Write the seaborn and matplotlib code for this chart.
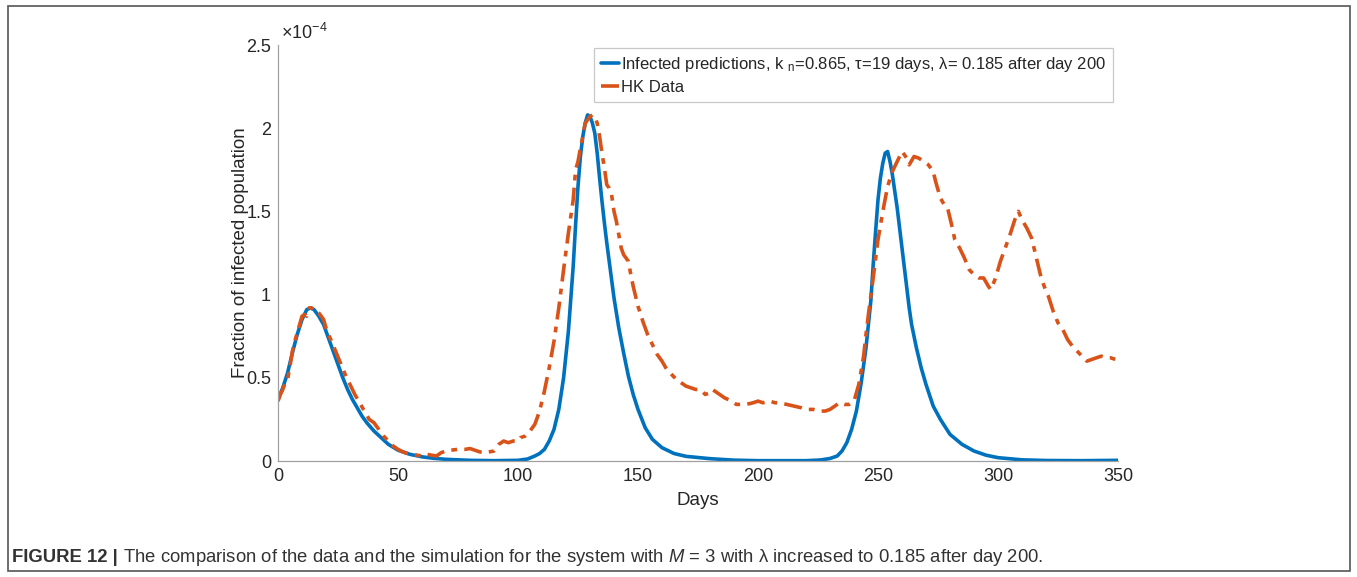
import numpy as np
import pandas as pd
import matplotlib
matplotlib.use("Agg")
import matplotlib.pyplot as plt
from matplotlib.patches import Rectangle
import seaborn as sns

# ---- data (fraction of infected population, in units of 1e-4) ----
model_days = [0, 2, 4, 6, 8, 10, 12, 13.6, 15, 17, 19, 21, 23, 25, 27, 29, 31, 33, 35, 37,
              40, 43, 46, 50, 55, 60, 65, 70, 80, 90, 100, 104, 107, 109, 111, 113, 115, 117,
              119, 121, 123, 124, 125, 126, 127, 128, 129, 130, 131, 132, 133, 134, 135, 136,
              137, 138, 140, 142, 144, 146, 148, 150, 153, 156, 160, 165, 170, 180, 190, 200,
              220, 226, 230, 233, 235, 237, 239, 241, 243, 245, 247, 248, 249, 250, 251, 252,
              253, 254, 255, 256, 257, 258, 259, 260, 261, 262, 263, 264, 266, 268, 270, 273,
              276, 280, 285, 290, 295, 300, 310, 320, 335, 350]
model_vals = [0.37, 0.44, 0.53, 0.65, 0.76, 0.85, 0.91, 0.92, 0.91, 0.87, 0.82, 0.74, 0.66,
              0.58, 0.50, 0.43, 0.37, 0.32, 0.27, 0.23, 0.18, 0.14, 0.10, 0.065, 0.04, 0.025,
              0.016, 0.010, 0.004, 0.002, 0.004, 0.012, 0.03, 0.045, 0.07, 0.12, 0.19, 0.31,
              0.50, 0.78, 1.17, 1.42, 1.65, 1.83, 1.95, 2.03, 2.08, 2.07, 2.03, 1.97, 1.85,
              1.70, 1.56, 1.43, 1.31, 1.20, 0.98, 0.80, 0.65, 0.51, 0.40, 0.31, 0.20, 0.13,
              0.08, 0.045, 0.028, 0.014, 0.005, 0.002, 0.002, 0.006, 0.015, 0.03, 0.06, 0.11,
              0.19, 0.30, 0.47, 0.68, 0.96, 1.18, 1.38, 1.57, 1.70, 1.79, 1.85, 1.86, 1.80,
              1.72, 1.62, 1.52, 1.40, 1.28, 1.16, 1.04, 0.92, 0.82, 0.68, 0.56, 0.46, 0.33,
              0.25, 0.16, 0.10, 0.06, 0.035, 0.02, 0.007, 0.003, 0.002, 0.004]

hk_days = [0, 1, 2, 3, 4, 5, 6, 7, 8, 9, 10, 11, 12, 13, 14, 15, 16, 17, 18, 19, 20, 21, 22,
           24, 26, 28, 30, 32, 34, 36, 38, 40, 42, 44, 46, 48, 50, 52, 54, 56, 58, 60, 62, 64,
           66, 68, 70, 72, 75, 78, 80, 82, 84, 86, 88, 90, 92, 94, 96, 98, 100, 101, 103, 105,
           107, 109, 111, 113, 115, 117, 119, 121, 123, 124, 125, 126, 127, 128, 129, 130, 131,
           132, 133, 134, 135, 136, 137, 138, 139, 140, 141, 142, 143, 144, 145, 146, 147, 148,
           150, 152, 154, 156, 158, 160, 162, 164, 166, 168, 170, 172, 174, 176, 178, 180, 181,
           183, 186, 189, 191, 193, 195, 198, 200, 202, 205, 207, 209, 212, 215, 218, 220, 223,
           226, 228, 230, 232, 234, 236, 238, 240, 242, 244, 245, 246, 248, 250, 252, 254, 256,
           258, 260, 262, 263, 265, 267, 269, 271, 273, 274, 276, 278, 279, 281, 282, 284, 286,
           288, 290, 292, 294, 296, 297, 299, 301, 303, 305, 307, 308.5, 310, 312, 314, 316,
           318, 320, 321, 323, 325, 327, 329, 331, 333, 335, 337, 339, 341, 343, 345, 347, 349,
           350]
hk_vals = [0.36, 0.40, 0.43, 0.47, 0.49, 0.57, 0.66, 0.72, 0.77, 0.82, 0.87, 0.88, 0.87, 0.92,
           0.92, 0.90, 0.90, 0.89, 0.87, 0.85, 0.80, 0.76, 0.73, 0.66, 0.59, 0.52, 0.46, 0.40,
           0.35, 0.30, 0.25, 0.23, 0.19, 0.15, 0.12, 0.09, 0.07, 0.055, 0.045, 0.04, 0.035,
           0.03, 0.04, 0.035, 0.03, 0.05, 0.06, 0.065, 0.07, 0.07, 0.075, 0.065, 0.055, 0.05,
           0.055, 0.06, 0.10, 0.12, 0.11, 0.12, 0.12, 0.14, 0.15, 0.18, 0.22, 0.30, 0.42, 0.56,
           0.72, 0.92, 1.15, 1.37, 1.57, 1.75, 1.80, 1.88, 1.95, 2.03, 2.05, 2.07, 2.08, 2.07,
           2.03, 1.95, 1.85, 1.76, 1.66, 1.64, 1.60, 1.50, 1.44, 1.36, 1.28, 1.24, 1.22, 1.20,
           1.12, 1.05, 0.93, 0.84, 0.76, 0.70, 0.64, 0.60, 0.55, 0.52, 0.49, 0.47, 0.45, 0.44,
           0.43, 0.43, 0.40, 0.41, 0.43, 0.41, 0.38, 0.36, 0.34, 0.34, 0.34, 0.35, 0.36, 0.35,
           0.36, 0.35, 0.35, 0.34, 0.33, 0.32, 0.31, 0.31, 0.30, 0.30, 0.31, 0.33, 0.35, 0.34,
           0.34, 0.36, 0.46, 0.63, 0.76, 0.88, 1.10, 1.33, 1.50, 1.65, 1.74, 1.80, 1.86, 1.82,
           1.78, 1.83, 1.82, 1.80, 1.78, 1.74, 1.68, 1.58, 1.53, 1.52, 1.40, 1.33, 1.28, 1.22,
           1.15, 1.12, 1.10, 1.10, 1.05, 1.03, 1.10, 1.20, 1.28, 1.36, 1.45, 1.50, 1.45, 1.40,
           1.34, 1.22, 1.10, 1.02, 0.99, 0.90, 0.83, 0.79, 0.73, 0.69, 0.66, 0.63, 0.60, 0.61,
           0.62, 0.63, 0.62, 0.62, 0.61, 0.59]

x_ticks = [0, 50, 100, 150, 200, 250, 300, 350]
y_ticks = [0, 0.5, 1, 1.5, 2, 2.5]
y_tick_labels = ["0", "0.5", "1", "1.5", "2", "2.5"]

model_label = "Infected predictions, k $_{\\mathrm{n}}$=0.865, \u03c4=19 days, \u03bb= 0.185 after day 200"
hk_label = "HK Data"
x_label = "Days"
y_label = "Fraction of infected population"
caption_bold = "FIGURE 12 |"
caption_rest = " The comparison of the data and the simulation for the system with $M$ = 3 with \u03bb increased to 0.185 after day 200."

# ---- style ----
sns.set_theme(style="white")
plt.rcParams['font.family'] = ['Liberation Sans', 'DejaVu Sans']
plt.rcParams['mathtext.fontset'] = 'custom'
plt.rcParams['mathtext.rm'] = 'Liberation Sans'
plt.rcParams['mathtext.it'] = 'Liberation Sans:italic'
plt.rcParams['mathtext.bf'] = 'Liberation Sans:bold'

W, H = 1357, 577
fig = plt.figure(figsize=(W / 100, H / 100), dpi=100)
ax = fig.add_axes([278 / W, 1 - 461 / H, (1118 - 278) / W, (461 - 45) / H])

df_model = pd.DataFrame({"day": model_days, "val": model_vals})
df_hk = pd.DataFrame({"day": hk_days, "val": hk_vals})

sns.lineplot(data=df_model, x="day", y="val", ax=ax, color="#0072BD", linewidth=2.6,
             label=model_label, sort=False)
sns.lineplot(data=df_hk, x="day", y="val", ax=ax, color="#D95319", linewidth=2.6,
             label=hk_label, sort=False)
ax.lines[1].set_dashes([5, 2, 1.6, 2])

ax.set_xlim(0, 350)
ax.set_ylim(0, 2.5)
ax.set_xticks(x_ticks)
ax.set_xticklabels([str(t) for t in x_ticks])
ax.set_yticks(y_ticks)
ax.set_yticklabels(y_tick_labels)
ax.tick_params(axis='both', direction='in', length=5, width=0.8, colors='#a0a0a0',
               labelcolor='#262626', labelsize=13, pad=5)
for s in ['top', 'right']:
    ax.spines[s].set_visible(False)
for s in ['left', 'bottom']:
    ax.spines[s].set_color('#a0a0a0')
    ax.spines[s].set_linewidth(0.9)

ax.set_xlabel(x_label, fontsize=13.5, color='#262626', labelpad=5)
ax.set_ylabel(y_label, fontsize=13.5, color='#262626', labelpad=-2)
ax.text(0.003, 1.006, "\u00d710$^{-4}$", transform=ax.transAxes, fontsize=13,
        color='#262626', ha='left', va='bottom')

leg = ax.legend(loc='upper right', bbox_to_anchor=(0.9935, 0.993), fontsize=12,
                frameon=True, fancybox=False, framealpha=1, edgecolor='#c8c8c8',
                handlelength=1.1, handletextpad=0.1, borderpad=0.4, labelspacing=0.4,
                borderaxespad=0)
leg.get_frame().set_linewidth(0.9)
for t in leg.get_texts():
    t.set_color('#262626')

# figure border
fig.patches.append(Rectangle((8 / W, 1 - 571 / H), (1350 - 8) / W, (571 - 6) / H,
                             transform=fig.transFigure, fill=False, edgecolor='#555555',
                             linewidth=1.2))

# caption
t1 = fig.text(12 / W, 1 - 557 / H, caption_bold, fontsize=13.3, fontweight='bold',
              color='#333333', ha='left', va='center')
fig.canvas.draw()
bb = t1.get_window_extent(renderer=fig.canvas.get_renderer())
fig.text(bb.x1 / W, 1 - 557 / H, caption_rest, fontsize=13.3, color='#333333',
         ha='left', va='center')

fig.savefig("out.png", dpi=100)
